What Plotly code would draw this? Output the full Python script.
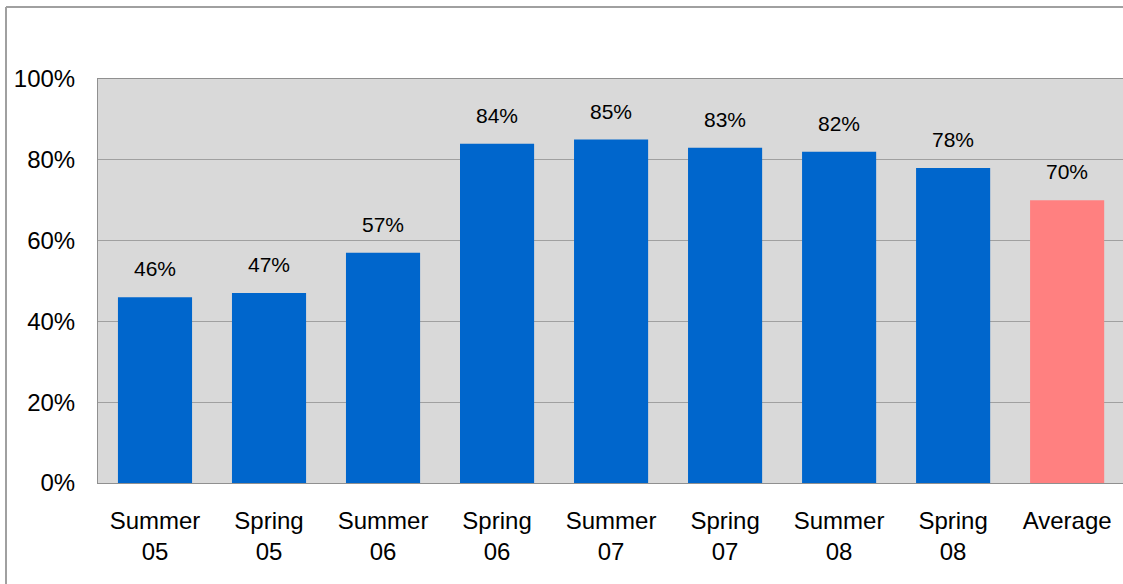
import plotly.graph_objects as go

categories = ["Summer<br>05", "Spring<br>05", "Summer<br>06", "Spring<br>06", "Summer<br>07",
              "Spring<br>07", "Summer<br>08", "Spring<br>08", "Average"]
values = [0.46, 0.47, 0.57, 0.84, 0.85, 0.83, 0.82, 0.78, 0.70]
bar_colors = ["#0066CC"] * 8 + ["#FF8080"]
y_ticks = [0, 0.2, 0.4, 0.6, 0.8, 1.0]
y_tick_labels = ["0%", "20%", "40%", "60%", "80%", "100%"]

FONT = "Liberation Sans, Arial, sans-serif"
x_idx = list(range(len(categories)))

fig = go.Figure()
fig.add_trace(go.Bar(
    x=x_idx, y=values, width=0.65,
    marker=dict(color=bar_colors, line=dict(width=0)),
    hoverinfo="skip",
))

for i, v in zip(x_idx, values):
    fig.add_annotation(x=i, y=v, text=f"{round(v*100)}%", showarrow=False,
                       yanchor="bottom", yshift=15,
                       font=dict(family=FONT, size=21, color="black"))

# outer chart border (top and left visible)
PW, PH = 1025, 404
bx = -92 / PW
by = 1 + 72 / PH
fig.add_shape(type="line", xref="paper", yref="paper", x0=bx, x1=1.05,
              y0=by, y1=by, line=dict(color="#A0A0A0", width=2))
fig.add_shape(type="line", xref="paper", yref="paper", x0=bx, x1=bx,
              y0=-1, y1=by, line=dict(color="#A0A0A0", width=2))

fig.update_layout(
    width=1123, height=584,
    margin=dict(l=98, r=0, t=79, b=101),
    paper_bgcolor="white", plot_bgcolor="#D9D9D9",
    showlegend=False, bargap=0.35,
    font=dict(family=FONT, size=24, color="black"),
)
fig.update_xaxes(
    range=[-0.5, 8.49], tickmode="array", tickvals=x_idx, ticktext=categories,
    showgrid=False, showline=True, linecolor="#909090", linewidth=1, mirror=True,
    ticks="outside", ticklen=16, tickcolor="rgba(0,0,0,0)",
    tickfont=dict(family=FONT, size=24, color="black"), fixedrange=True,
)
fig.update_yaxes(
    range=[0, 1], tickmode="array", tickvals=y_ticks, ticktext=y_tick_labels,
    showgrid=True, gridcolor="#A0A0A0", gridwidth=1, zeroline=False,
    showline=True, linecolor="#909090", linewidth=1, mirror=True,
    ticks="outside", ticklen=17, tickcolor="rgba(0,0,0,0)",
    tickfont=dict(family=FONT, size=24, color="black"), fixedrange=True,
)

fig.write_html("out.html", config={"displayModeBar": False},
               post_script="document.body.style.margin='0';document.body.style.overflow='hidden';")
